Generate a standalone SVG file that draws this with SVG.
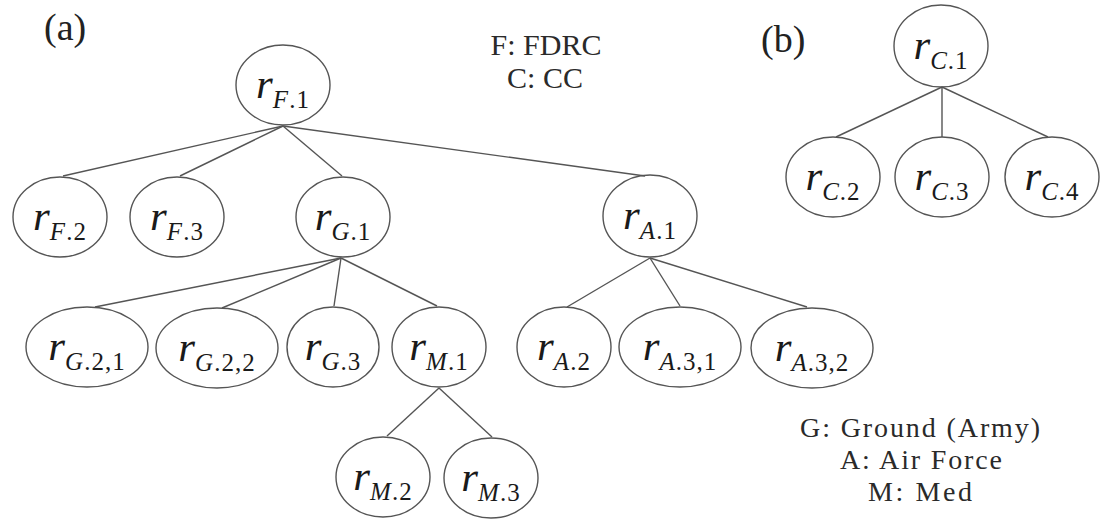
<svg xmlns="http://www.w3.org/2000/svg" width="1111" height="520" viewBox="0 0 1111 520">
<style>
.n{fill:none;stroke:#555;stroke-width:1.4}
.c{stroke:#555;stroke-width:1.4;fill:none}
.lbl{font-family:"Liberation Serif","DejaVu Serif",serif;fill:#1a1a1a;text-anchor:middle}
.r{font-style:italic;font-size:43px}
.sub{font-size:25px;letter-spacing:1px}
.it{font-style:italic}
.tx{font-family:"Liberation Serif","DejaVu Serif",serif;fill:#2a2a2a;text-anchor:middle}
.lg{font-size:28px}
.pl{font-family:"Liberation Serif","DejaVu Serif",serif;fill:#222;font-size:38px}
</style>
<rect width="1111" height="520" fill="#fff"/>
<text class="pl" x="44" y="40">(a)</text>
<text class="pl" x="761" y="52">(b)</text>
<g id="legend-top">
<text class="tx" x="546" y="55" font-size="30">F: FDRC</text>
<text class="tx" x="545" y="88" font-size="30">C: CC</text>
</g>
<g id="legend-bottom">
<text class="tx lg" x="920" y="437" textLength="240" lengthAdjust="spacing">G: Ground (Army)</text>
<text class="tx lg" x="921" y="469" textLength="162" lengthAdjust="spacing">A: Air Force</text>
<text class="tx lg" x="920" y="501" textLength="104" lengthAdjust="spacing">M: Med</text>
</g>
<g id="connectors">
<line class="c" x1="283" y1="126" x2="63" y2="176"/>
<line class="c" x1="283" y1="126" x2="180" y2="176"/>
<line class="c" x1="283" y1="126" x2="342" y2="176"/>
<line class="c" x1="283" y1="126" x2="645" y2="176"/>
<line class="c" x1="341" y1="258" x2="95" y2="307"/>
<line class="c" x1="341" y1="258" x2="222" y2="308"/>
<line class="c" x1="341" y1="258" x2="334" y2="306"/>
<line class="c" x1="341" y1="258" x2="437" y2="306"/>
<line class="c" x1="650" y1="258" x2="567" y2="307"/>
<line class="c" x1="650" y1="258" x2="680" y2="306"/>
<line class="c" x1="650" y1="258" x2="807" y2="307"/>
<line class="c" x1="439" y1="388" x2="387" y2="436"/>
<line class="c" x1="439" y1="388" x2="492" y2="437"/>
<line class="c" x1="942" y1="87" x2="836" y2="137"/>
<line class="c" x1="942" y1="87" x2="942" y2="137"/>
<line class="c" x1="942" y1="87" x2="1048" y2="137"/>
</g>
<g id="rF1"><ellipse class="n" cx="283" cy="85" rx="47" ry="40"/><text class="lbl" x="283" y="98"><tspan class="r">r</tspan><tspan class="sub" dy="10"><tspan class="it">F</tspan>.1</tspan></text></g>
<g id="rF2"><ellipse class="n" cx="60" cy="217" rx="47" ry="40"/><text class="lbl" x="60" y="230"><tspan class="r">r</tspan><tspan class="sub" dy="10"><tspan class="it">F</tspan>.2</tspan></text></g>
<g id="rF3"><ellipse class="n" cx="177" cy="217" rx="47" ry="40"/><text class="lbl" x="177" y="230"><tspan class="r">r</tspan><tspan class="sub" dy="10"><tspan class="it">F</tspan>.3</tspan></text></g>
<g id="rG1"><ellipse class="n" cx="343" cy="217" rx="47" ry="40"/><text class="lbl" x="343" y="230"><tspan class="r">r</tspan><tspan class="sub" dy="10"><tspan class="it">G</tspan>.1</tspan></text></g>
<g id="rA1"><ellipse class="n" cx="650" cy="216" rx="47" ry="41"/><text class="lbl" x="650" y="229"><tspan class="r">r</tspan><tspan class="sub" dy="10"><tspan class="it">A</tspan>.1</tspan></text></g>
<g id="rG21"><ellipse class="n" cx="87" cy="347" rx="61" ry="40"/><text class="lbl" x="87" y="360"><tspan class="r">r</tspan><tspan class="sub" dy="10"><tspan class="it">G</tspan>.2,1</tspan></text></g>
<g id="rG22"><ellipse class="n" cx="217" cy="348" rx="61" ry="40"/><text class="lbl" x="217" y="361"><tspan class="r">r</tspan><tspan class="sub" dy="10"><tspan class="it">G</tspan>.2,2</tspan></text></g>
<g id="rG3"><ellipse class="n" cx="333" cy="347" rx="46" ry="40"/><text class="lbl" x="333" y="360"><tspan class="r">r</tspan><tspan class="sub" dy="10"><tspan class="it">G</tspan>.3</tspan></text></g>
<g id="rM1"><ellipse class="n" cx="439" cy="347" rx="47" ry="40"/><text class="lbl" x="439" y="360"><tspan class="r">r</tspan><tspan class="sub" dy="10"><tspan class="it">M</tspan>.1</tspan></text></g>
<g id="rA2"><ellipse class="n" cx="564" cy="347" rx="47" ry="40"/><text class="lbl" x="564" y="360"><tspan class="r">r</tspan><tspan class="sub" dy="10"><tspan class="it">A</tspan>.2</tspan></text></g>
<g id="rA31"><ellipse class="n" cx="680" cy="347" rx="61" ry="40"/><text class="lbl" x="680" y="360"><tspan class="r">r</tspan><tspan class="sub" dy="10"><tspan class="it">A</tspan>.3,1</tspan></text></g>
<g id="rA32"><ellipse class="n" cx="812" cy="348" rx="61" ry="40"/><text class="lbl" x="812" y="361"><tspan class="r">r</tspan><tspan class="sub" dy="10"><tspan class="it">A</tspan>.3,2</tspan></text></g>
<g id="rM2"><ellipse class="n" cx="383" cy="477" rx="47" ry="40"/><text class="lbl" x="383" y="490"><tspan class="r">r</tspan><tspan class="sub" dy="10"><tspan class="it">M</tspan>.2</tspan></text></g>
<g id="rM3"><ellipse class="n" cx="491" cy="478" rx="47" ry="40"/><text class="lbl" x="491" y="491"><tspan class="r">r</tspan><tspan class="sub" dy="10"><tspan class="it">M</tspan>.3</tspan></text></g>
<g id="rC1"><ellipse class="n" cx="941" cy="46" rx="47" ry="41"/><text class="lbl" x="941" y="59"><tspan class="r">r</tspan><tspan class="sub" dy="10"><tspan class="it">C</tspan>.1</tspan></text></g>
<g id="rC2"><ellipse class="n" cx="833" cy="177" rx="47" ry="40"/><text class="lbl" x="833" y="190"><tspan class="r">r</tspan><tspan class="sub" dy="10"><tspan class="it">C</tspan>.2</tspan></text></g>
<g id="rC3"><ellipse class="n" cx="942" cy="177" rx="47" ry="40"/><text class="lbl" x="942" y="190"><tspan class="r">r</tspan><tspan class="sub" dy="10"><tspan class="it">C</tspan>.3</tspan></text></g>
<g id="rC4"><ellipse class="n" cx="1052" cy="177" rx="47" ry="40"/><text class="lbl" x="1052" y="190"><tspan class="r">r</tspan><tspan class="sub" dy="10"><tspan class="it">C</tspan>.4</tspan></text></g>
</svg>
